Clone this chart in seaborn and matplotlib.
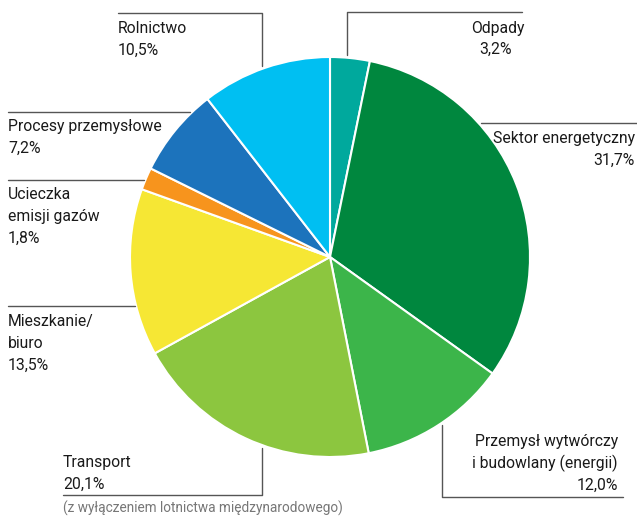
import matplotlib
matplotlib.use("Agg")
import matplotlib.pyplot as plt
import seaborn as sns
from matplotlib.lines import Line2D

categories = ["Odpady", "Sektor energetyczny", "Przemysł wytwórczy\ni budowlany (energii)",
              "Transport", "Mieszkanie/\nbiuro", "Ucieczka\nemisji gazów",
              "Procesy przemysłowe", "Rolnictwo"]
values = [3.2, 31.7, 12.0, 20.1, 13.5, 1.8, 7.2, 10.5]
value_labels = ["3,2%", "31,7%", "12,0%", "20,1%", "13,5%", "1,8%", "7,2%", "10,5%"]
colors = ["#00a99d", "#00873e", "#3cb54a", "#8cc63f", "#f6e734", "#f7941d", "#1c73bc", "#00bff2"]
footnote = "(z wyłączeniem lotnictwa międzynarodowego)"

sns.set_theme(style="white")
plt.rcParams['font.family'] = ['Roboto', 'DejaVu Sans']

W, H = 637, 517
fig = plt.figure(figsize=(W / 100, H / 100), dpi=100)
cx, cy, r = 330, 257, 200
ax = fig.add_axes([(cx - r) / W, (H - cy - r) / H, 2 * r / W, 2 * r / H])
ax.pie(values, colors=colors, startangle=90, counterclock=False, radius=1,
       wedgeprops=dict(edgecolor="white", linewidth=1.5))
ax.set_xlim(-1, 1)
ax.set_ylim(-1, 1)
ax.set_aspect("equal")
ax.axis("off")

def fx(px):
    return px / W

def fy(py):
    return 1 - py / H

def line(pts):
    xs = [fx(p[0]) for p in pts]
    ys = [fy(p[1]) for p in pts]
    fig.add_artist(Line2D(xs, ys, color="#555555", lw=1.0, transform=fig.transFigure))

def label(px, py_first, text, ha="left", step=22):
    for i, ln in enumerate(text.split("\n")):
        fig.text(fx(px), fy(py_first + i * step), ln, ha=ha, va="baseline",
                 fontsize=11.3, color="#1a1a1a")

# leader lines
line([(118, 13), (262, 13), (262, 66)])          # Rolnictwo
line([(347, 55), (347, 12), (522, 12)])          # Odpady
line([(481, 123), (637, 123)])                   # Sektor
line([(8, 112), (190, 112)])                     # Procesy
line([(8, 180), (144, 180)])                     # Ucieczka
line([(8, 306), (135, 306)])                     # Mieszkanie
line([(442, 425), (442, 497), (623, 497)])       # Przemysł
line([(262, 448), (262, 495), (63, 495)])        # Transport

# labels (first line baseline given)
label(118, 33, f"{categories[7]}\n{value_labels[7]}")
fig.text(fx(498), fy(33), categories[0], ha="center", va="baseline", fontsize=11.3, color="#1a1a1a")
fig.text(fx(496), fy(54), value_labels[0], ha="center", va="baseline", fontsize=11.3, color="#1a1a1a")
label(635, 143, f"{categories[1]}\n{value_labels[1]}", ha="right")
label(8, 131, f"{categories[6]}\n{value_labels[6]}")
label(8, 199, f"{categories[5]}\n{value_labels[5]}")
label(8, 326, f"{categories[4]}\n{value_labels[4]}")
label(618, 446, f"{categories[2]}\n{value_labels[2]}", ha="right")
label(63, 467, f"{categories[3]}\n{value_labels[3]}")
fig.text(fx(63), fy(513), footnote, ha="left", va="baseline", fontsize=9.8, color="#777777")

fig.savefig("out.png", dpi=100)
